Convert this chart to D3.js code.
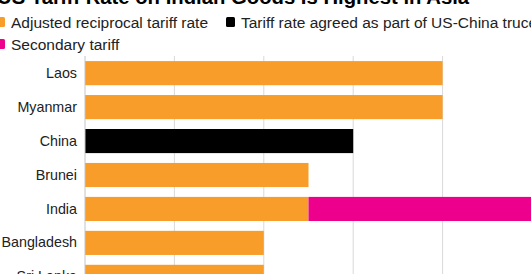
<!DOCTYPE html>
<meta charset="utf-8">
<script src="https://d3js.org/d3.v7.min.js"></script>
<style>
  body { margin: 0; background: #fff; overflow: hidden; }
  svg { display: block; font-family: "Liberation Sans", Arial, sans-serif; }
</style>
<body>
<div id="chart"></div>
</body>
<script>
// countries, top to bottom
var countries = ["Laos", "Myanmar", "China", "Brunei", "India", "Bangladesh", "Sri Lanka"];
// adjusted reciprocal tariff rate (%)
var reciprocal = [40, 40, 0, 25, 25, 20, 20];
// tariff agreed as part of US-China truce (%)
var truce = [0, 0, 30, 0, 0, 0, 0];
// secondary tariff (%)
var secondary = [0, 0, 0, 0, 25, 0, 0];
var gridTicks = [10, 20, 30, 40, 50];

var legendItems = [
  { label: "Adjusted reciprocal tariff rate", color: "#f89d2a" },
  { label: "Tariff rate agreed as part of US-China truce", color: "#000000" },
  { label: "Secondary tariff", color: "#ec008c" }
];

var W = 531, H = 274;
var svg = d3.select("#chart").append("svg")
  .attr("width", W).attr("height", H);

// title (cropped at the top in the reference)
svg.append("text")
  .attr("x", -3).attr("y", 4)
  .attr("font-size", 20.3).attr("font-weight", "bold")
  .attr("fill", "#000")
  .text("US Tariff Rate on Indian Goods Is Highest in Asia");

// legend
var legendPos = [[-4, 22], [226, 22], [-4, 44]];
legendItems.forEach(function(d, i) {
  var p = legendPos[i];
  svg.append("rect")
    .attr("x", p[0]).attr("y", p[1] - 5)
    .attr("width", 9).attr("height", 10).attr("rx", 1.5)
    .attr("fill", d.color);
  svg.append("text")
    .attr("x", p[0] + 15).attr("y", p[1] + 5.5)
    .attr("font-size", 15.5).attr("fill", "#222")
    .text(d.label);
});

var x = d3.scaleLinear().domain([0, 50]).range([85, 532]);
var y = d3.scaleBand().domain(countries).range([56, 294]).paddingInner(0.29).paddingOuter(0.15);

// gridlines
svg.append("g").selectAll("line")
  .data(gridTicks).enter().append("line")
  .attr("x1", function(d) { return x(d); })
  .attr("x2", function(d) { return x(d); })
  .attr("y1", 56).attr("y2", H)
  .attr("stroke", "#d9d9d9").attr("stroke-width", 1);

var data = countries.map(function(c, i) {
  return { country: c, reciprocal: reciprocal[i], truce: truce[i], secondary: secondary[i] };
});
var keys = ["reciprocal", "truce", "secondary"];
var colors = { reciprocal: "#f89d2a", truce: "#000000", secondary: "#ec008c" };
var stacked = d3.stack().keys(keys)(data);

svg.append("g").selectAll("g")
  .data(stacked).enter().append("g")
  .attr("fill", function(s) { return colors[s.key]; })
  .selectAll("rect")
  .data(function(s) { return s; }).enter().append("rect")
  .attr("x", function(d) { return x(d[0]); })
  .attr("y", function(d) { return y(d.data.country); })
  .attr("width", function(d) { return x(d[1]) - x(d[0]); })
  .attr("height", y.bandwidth());

// zero axis line
svg.append("line")
  .attr("x1", x(0)).attr("x2", x(0))
  .attr("y1", 56).attr("y2", H)
  .attr("stroke", "#c4c4c4").attr("stroke-width", 1);

// category labels
var yAxis = d3.axisLeft(y).tickSize(0).tickPadding(8);
var ga = svg.append("g").attr("transform", "translate(" + x(0) + ",0)").call(yAxis);
ga.select(".domain").remove();
ga.selectAll("text").attr("font-size", 14.3).attr("fill", "#222")
  .attr("font-family", "Liberation Sans, Arial, sans-serif");
</script>
